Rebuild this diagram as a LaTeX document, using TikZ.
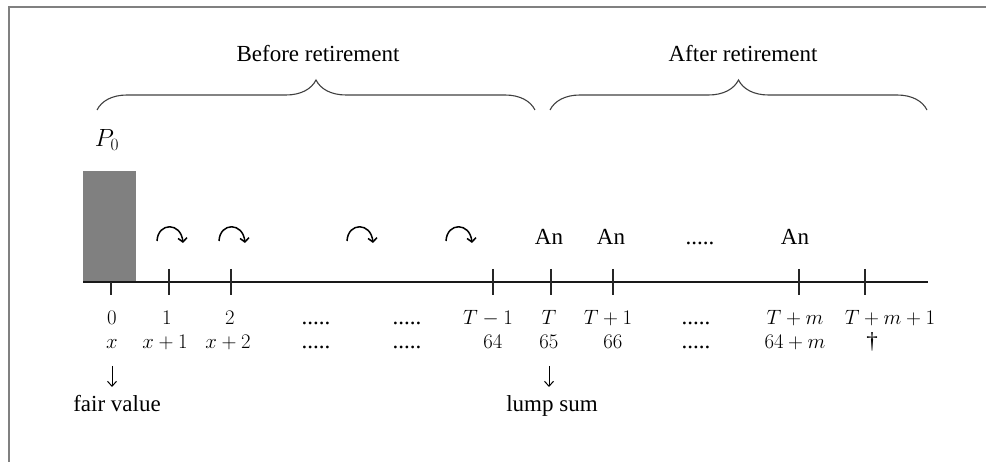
\documentclass[tikz,border=0pt]{standalone}
\usepackage{fontspec}
\setmainfont{Liberation Serif}
\usetikzlibrary{arrows.meta,decorations.pathreplacing}

\tikzset{
  txt/.style={font=\fontsize{23}{27}\selectfont, inner sep=0pt, anchor=base},
  lbl/.style={font=\fontsize{21}{25}\selectfont, inner sep=0pt, anchor=base},
  tick/.style={line width=1.4pt, black!85},
  axis/.style={line width=1.4pt, black!90},
  bracket/.style={decorate, decoration={brace, amplitude=30pt}, line width=1.1pt, black!75},
  growth/.pic={
    \draw[line width=1.5pt, -{Straight Barb[length=4pt,width=9pt]}]
      (-16,5) .. controls (-15,-14) and (8,-14) .. (10,7);
  },
  down/.style={line width=1pt, -{Straight Barb[length=5pt,width=9pt]}},
}

\begin{document}
\begin{tikzpicture}[x=1pt, y=-1pt]
  \useasboundingbox (0,0) rectangle (986,462);

  % frame (left and top edges)
  \draw[line width=2pt, black!50] (8.5,470) -- (8.5,7.5) -- (995,7.5);

  % period headings and braces
  \node[txt] (before) at (318,62) {Before retirement};
  \node[txt] (after)  at (743,62) {After retirement};
  \coordinate (b1l) at (97,110);  \coordinate (b1r) at (535,110);
  \coordinate (b2l) at (550,110); \coordinate (b2r) at (927,110);
  \draw[bracket] (b1l) -- (b1r);
  \draw[bracket] (b2l) -- (b2r);

  % initial premium
  \node[txt] (p0) at (107,147) {$P_0$};
  \fill[black!50] (83,171) rectangle (136,283);

  % time axis
  \coordinate (axL) at (83,282);
  \coordinate (axR) at (928,282);
  \draw[axis] (axL) -- (axR);

  % tick marks
  \draw[tick] (111,282) -- (111,295);
  \foreach \tx in {169,231,493,551,613,799,865}
    \draw[tick] (\tx,269) -- (\tx,295);

  % accumulation arrows
  \foreach \cx in {173,235,363,462}
    \pic at (\cx,236) {growth};

  % annuity payments
  \node[txt] (an1) at (549,245) {An};
  \node[txt] (an2) at (611,245) {An};
  \node[txt] (anD) at (700,245) {.....};
  \node[txt] (an3) at (795,245) {An};

  % time index row
  \node[lbl] (t0)  at (112,325) {$0$};
  \node[lbl] (t1)  at (167,325) {$1$};
  \node[lbl] (t2)  at (230,325) {$2$};
  \node[txt] (tD1) at (316,325) {.....};
  \node[txt] (tD2) at (407,325) {.....};
  \node[lbl] (tT1) at (488,325) {$T-1$};
  \node[lbl] (tT)  at (549,325) {$T$};
  \node[lbl] (tTp) at (608,325) {$T+1$};
  \node[txt] (tD3) at (696,325) {.....};
  \node[lbl] (tTm) at (795,325) {$T+m$};
  \node[lbl] (tTe) at (890,325) {$T+m+1$};

  % age row
  \node[lbl] (a0)  at (112,349) {$x$};
  \node[lbl] (a1)  at (165,349) {$x+1$};
  \node[lbl] (a2)  at (228,349) {$x+2$};
  \node[txt] (aD1) at (316,349) {.....};
  \node[txt] (aD2) at (407,349) {.....};
  \node[lbl] (a64) at (493,349) {$64$};
  \node[lbl] (a65) at (549,349) {$65$};
  \node[lbl] (a66) at (613,349) {$66$};
  \node[txt] (aD3) at (696,349) {.....};
  \node[lbl] (aTm) at (795,349) {$64+m$};
  \node[txt] (aTe) at (872,349) {†};

  % valuation notes
  \node[txt] (fair) at (117,412) {fair value};
  \node[txt] (lump) at (552,412) {lump sum};
  \coordinate (d0a) at (112,366); \coordinate (d0b) at (112,387);
  \coordinate (d1a) at (549,366); \coordinate (d1b) at (549,387);
  \draw[down] (d0a) -- (d0b);
  \draw[down] (d1a) -- (d1b);
\end{tikzpicture}
\end{document}
